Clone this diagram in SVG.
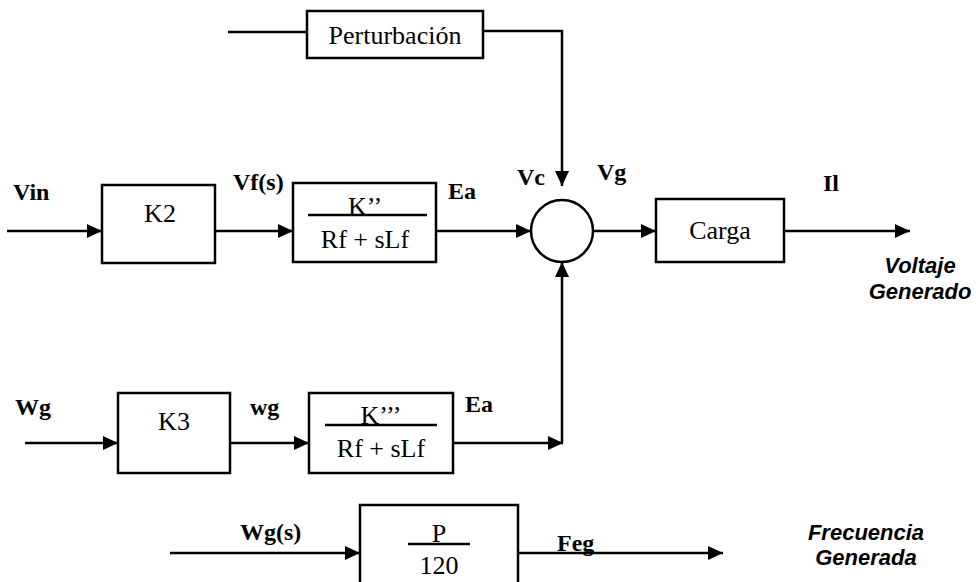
<svg xmlns="http://www.w3.org/2000/svg" width="976" height="582" viewBox="0 0 976 582">
<style>
.box{fill:#fff;stroke:#000;stroke-width:2.5}
.ln{fill:none;stroke:#000;stroke-width:2.5}
.frac{stroke:#000;stroke-width:2.5}
.lbl{font-family:"Liberation Serif",serif;font-weight:bold;font-size:24px;fill:#000}
.t{font-family:"Liberation Serif",serif;font-size:26px;fill:#000;text-anchor:middle}
.out{font-family:"Liberation Sans",sans-serif;font-weight:bold;font-style:italic;font-size:22px;fill:#000;text-anchor:middle}
</style>
<defs>
<marker id="ah" markerUnits="userSpaceOnUse" markerWidth="16" markerHeight="14" refX="15" refY="7" orient="auto">
<path d="M0,0 L15,7 L0,14 Z" fill="#000"/>
</marker>
</defs>
<g id="connectors">
<path class="ln" d="M228,32 H307"/>
<path class="ln" d="M483,31 H562 V186" marker-end="url(#ah)"/>
<path class="ln" d="M7,231 H102" marker-end="url(#ah)"/>
<path class="ln" d="M215,231 H293" marker-end="url(#ah)"/>
<path class="ln" d="M436,231 H531" marker-end="url(#ah)"/>
<path class="ln" d="M593,231 H656" marker-end="url(#ah)"/>
<path class="ln" d="M784,231 H910" marker-end="url(#ah)"/>
<path class="ln" d="M25,443 H118" marker-end="url(#ah)"/>
<path class="ln" d="M230,443 H309" marker-end="url(#ah)"/>
<path class="ln" d="M453,443 H563" marker-end="url(#ah)"/>
<path class="ln" d="M562,443 V262" marker-end="url(#ah)"/>
<path class="ln" d="M170,553 H360" marker-end="url(#ah)"/>
<path class="ln" d="M518,553 H723" marker-end="url(#ah)"/>
</g>
<g id="perturbacion">
<rect class="box" x="307" y="11" width="176" height="47"/>
<text class="t" x="395" y="44" font-size="25">Perturbación</text>
</g>
<g id="k2">
<rect class="box" x="102" y="185" width="113" height="78"/>
<text class="t" x="160" y="222">K2</text>
</g>
<g id="gf1">
<rect class="box" x="293" y="183" width="143" height="79"/>
<line class="frac" x1="308" y1="215" x2="427" y2="215"/>
<text class="t" x="365" y="215">K’’</text>
<text class="t" x="365" y="248">Rf + sLf</text>
</g>
<g id="suma">
<circle class="box" cx="562" cy="231" r="31"/>
</g>
<g id="carga">
<rect class="box" x="656" y="199" width="128" height="63"/>
<text class="t" x="720" y="239">Carga</text>
</g>
<g id="k3">
<rect class="box" x="118" y="393" width="112" height="80"/>
<text class="t" x="174" y="430">K3</text>
</g>
<g id="gf2">
<rect class="box" x="309" y="393" width="144" height="80"/>
<line class="frac" x1="325" y1="425" x2="437" y2="425"/>
<text class="t" x="381" y="424">K’’’</text>
<text class="t" x="381" y="457">Rf + sLf</text>
</g>
<g id="p120">
<rect class="box" x="360" y="505" width="158" height="90"/>
<line class="frac" x1="408" y1="544" x2="470" y2="544"/>
<text class="t" x="439" y="542">P</text>
<text class="t" x="439" y="574">120</text>
</g>
<g id="labels">
<text class="lbl" x="13" y="200">Vin</text>
<text class="lbl" x="233" y="190">Vf(s)</text>
<text class="lbl" x="448" y="199">Ea</text>
<text class="lbl" x="517" y="185">Vc</text>
<text class="lbl" x="597" y="180">Vg</text>
<text class="lbl" x="823" y="191">Il</text>
<text class="lbl" x="15" y="415">Wg</text>
<text class="lbl" x="250" y="415">wg</text>
<text class="lbl" x="465" y="412">Ea</text>
<text class="lbl" x="240" y="540">Wg(s)</text>
<text class="lbl" x="557" y="551" font-size="20">Feg</text>
<text class="out" x="920" y="273">Voltaje</text>
<text class="out" x="920" y="299">Generado</text>
<text class="out" x="866" y="540">Frecuencia</text>
<text class="out" x="866" y="565">Generada</text>
</g>
</svg>
